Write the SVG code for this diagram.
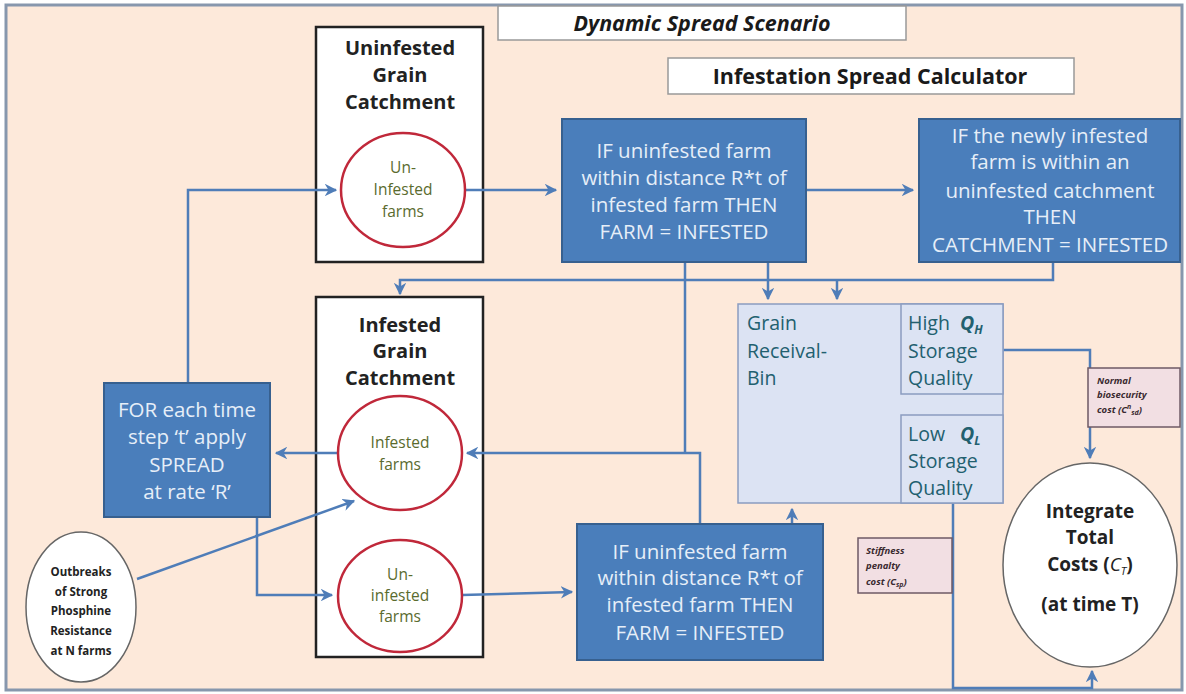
<svg xmlns="http://www.w3.org/2000/svg" width="1186" height="694" viewBox="0 0 1186 694">
<defs>
<marker id="ah" viewBox="0 0 10 10" refX="9" refY="5" markerWidth="5" markerHeight="5" orient="auto" markerUnits="strokeWidth">
<path d="M0,0 L10,5 L0,10 L3,5 Z" fill="#4F7DB8"/>
</marker>
<style>
text{font-family:"Open Sans","Liberation Sans",sans-serif}
.conn{fill:none;stroke:#4F7DB8;stroke-width:2.5}
.blue rect{fill:#4A7EBB;stroke:#37608F;stroke-width:2}
.blue text{fill:#E6EEF8;font-size:20.5px;text-anchor:middle}
.catch rect{fill:#fff;stroke:#222;stroke-width:2.5}
.catch .t{font-size:20px;font-weight:bold;fill:#222;text-anchor:middle}
.farm ellipse{fill:#fff;stroke:#C0283A;stroke-width:2.5}
.farm text{font-size:15.5px;fill:#5A6B2E;text-anchor:middle}
.hdr rect{fill:#fff;stroke:#999;stroke-width:1.5}
.hdr text{font-size:21.5px;font-weight:bold;fill:#1a1a1a;text-anchor:middle}
.bin rect{fill:#DCE3F3;stroke:#8A9CC0;stroke-width:1.5}
.bin text{font-size:19.5px;fill:#22606F}
.cost rect{fill:#F2DFE3;stroke:#6E5A66;stroke-width:1.5}
.cost text{font-size:9.5px;font-weight:bold;font-style:italic;fill:#3a2a30}
.oval ellipse{fill:#fff;stroke:#666;stroke-width:1.5}
.oval text{font-weight:bold;fill:#222;text-anchor:middle}
</style>
</defs>
<rect x="6" y="5" width="1176" height="685" fill="#FDE9DA" stroke="#8797AD" stroke-width="3"/>

<g id="title" class="hdr">
<rect x="498" y="6" width="408" height="34"/>
<text x="702" y="31" font-style="italic">Dynamic Spread Scenario</text>
</g>
<g id="calc-title" class="hdr">
<rect x="668" y="58" width="406" height="36"/>
<text x="870" y="84">Infestation Spread Calculator</text>
</g>

<g id="uninfested-catchment" class="catch">
<rect x="316" y="27" width="167" height="235"/>
<text class="t" x="400" y="55">Uninfested</text>
<text class="t" x="400" y="82">Grain</text>
<text class="t" x="400" y="109">Catchment</text>
</g>
<g id="infested-catchment" class="catch">
<rect x="316" y="297" width="167" height="360"/>
<text class="t" x="400" y="332">Infested</text>
<text class="t" x="400" y="358">Grain</text>
<text class="t" x="400" y="385">Catchment</text>
</g>

<g id="connectors">
<path class="conn" d="M465,190 H556" marker-end="url(#ah)"/>
<path class="conn" d="M806,190 H913" marker-end="url(#ah)"/>
<path class="conn" d="M188,383 V190 H336" marker-end="url(#ah)"/>
<path class="conn" d="M337,453 H276" stroke-width="3" marker-end="url(#ah)"/>
<path class="conn" d="M257,517 V595 H332" marker-end="url(#ah)"/>
<path class="conn" d="M137,579 L354,501" marker-end="url(#ah)"/>
<path class="conn" d="M462,595 L572,592" marker-end="url(#ah)"/>
<path class="conn" d="M685,262 V453"/>
<path class="conn" d="M700,524 V453 H467" marker-end="url(#ah)"/>
<path class="conn" d="M792,524 V509" marker-end="url(#ah)"/>
<path class="conn" d="M768,262 V299" marker-end="url(#ah)"/>
<path class="conn" d="M1053,262 V280 H400 V294" stroke="#6A78B8" marker-end="url(#ah)"/>
<path class="conn" d="M837,280 V299" marker-end="url(#ah)"/>
<path class="conn" d="M1003,350 H1090 V458" marker-end="url(#ah)"/>
<path class="conn" d="M953,503 V688 H1092 V671" marker-end="url(#ah)"/>
</g>

<g id="uninfested-farms-top" class="farm">
<ellipse cx="403" cy="190" rx="62" ry="57"/>
<text x="403" y="173">Un-</text>
<text x="403" y="195">Infested</text>
<text x="403" y="217">farms</text>
</g>
<g id="infested-farms" class="farm">
<ellipse cx="400" cy="453" rx="62" ry="57"/>
<text x="400" y="448">Infested</text>
<text x="400" y="470">farms</text>
</g>
<g id="uninfested-farms-bottom" class="farm">
<ellipse cx="400" cy="596" rx="62" ry="56"/>
<text x="400" y="580">Un-</text>
<text x="400" y="601">infested</text>
<text x="400" y="622">farms</text>
</g>

<g id="spread-rule-1" class="blue">
<rect x="562" y="119" width="244" height="143"/>
<text x="684" y="158">IF uninfested farm</text>
<text x="684" y="185">within distance R*t of</text>
<text x="684" y="212">infested farm THEN</text>
<text x="684" y="239">FARM = INFESTED</text>
</g>
<g id="catchment-rule" class="blue">
<rect x="919" y="119" width="261" height="143"/>
<text x="1050" y="143">IF the newly infested</text>
<text x="1050" y="169">farm is within an</text>
<text x="1050" y="198">uninfested catchment</text>
<text x="1050" y="224">THEN</text>
<text x="1050" y="252">CATCHMENT = INFESTED</text>
</g>
<g id="time-step" class="blue">
<rect x="104" y="383" width="166" height="134"/>
<text x="187" y="417">FOR each time</text>
<text x="187" y="444">step ‘t’ apply</text>
<text x="187" y="472">SPREAD</text>
<text x="187" y="499">at rate ‘R’</text>
</g>
<g id="spread-rule-2" class="blue">
<rect x="577" y="524" width="246" height="136"/>
<text x="700" y="559">IF uninfested farm</text>
<text x="700" y="585">within distance R*t of</text>
<text x="700" y="612">infested farm THEN</text>
<text x="700" y="640">FARM = INFESTED</text>
</g>

<g id="grain-bin" class="bin">
<rect x="738" y="304" width="265" height="199"/>
<text x="747" y="330">Grain</text>
<text x="747" y="358">Receival-</text>
<text x="747" y="385">Bin</text>
</g>
<g id="high-quality" class="bin">
<rect x="901" y="304" width="102" height="90"/>
<text x="908" y="330">High</text>
<text x="960" y="330" font-weight="bold" font-style="italic" fill="#222">Q<tspan font-size="12" dy="4">H</tspan></text>
<text x="908" y="358">Storage</text>
<text x="908" y="385">Quality</text>
</g>
<g id="low-quality" class="bin">
<rect x="901" y="415" width="102" height="88"/>
<text x="908" y="441">Low</text>
<text x="960" y="441" font-weight="bold" font-style="italic" fill="#222">Q<tspan font-size="12" dy="4">L</tspan></text>
<text x="908" y="468">Storage</text>
<text x="908" y="495">Quality</text>
</g>

<g id="normal-cost" class="cost">
<rect x="1088" y="368" width="92" height="59"/>
<text x="1097" y="384">Normal</text>
<text x="1097" y="398">biosecurity</text>
<text x="1097" y="413">cost (C<tspan font-size="7" dy="-4">n</tspan><tspan font-size="7" dy="6">sd</tspan><tspan dy="-2">)</tspan></text>
</g>
<g id="stiffness-cost" class="cost">
<rect x="858" y="538" width="94" height="55"/>
<text x="866" y="554">Stiffness</text>
<text x="866" y="569">penalty</text>
<text x="866" y="585">cost (C<tspan font-size="7" dy="2">sp</tspan><tspan dy="-2">)</tspan></text>
</g>

<g id="total-costs" class="oval">
<ellipse cx="1090" cy="565" rx="87" ry="102"/>
<text x="1090" y="518" font-size="19">Integrate</text>
<text x="1090" y="544" font-size="19">Total</text>
<text x="1090" y="571" font-size="19">Costs (<tspan font-style="italic" font-weight="normal">C</tspan><tspan font-size="11" dy="4" font-style="italic" font-weight="normal">T</tspan><tspan dy="-4">)</tspan></text>
<text x="1090" y="611" font-size="19">(at time T)</text>
</g>

<g id="outbreaks" class="oval">
<ellipse cx="81" cy="607" rx="55" ry="75"/>
<text x="81" y="576" font-size="11.5">Outbreaks</text>
<text x="81" y="596" font-size="11.5">of Strong</text>
<text x="81" y="615" font-size="11.5">Phosphine</text>
<text x="81" y="635" font-size="11.5">Resistance</text>
<text x="81" y="655" font-size="11.5">at N farms</text>
</g>
</svg>
